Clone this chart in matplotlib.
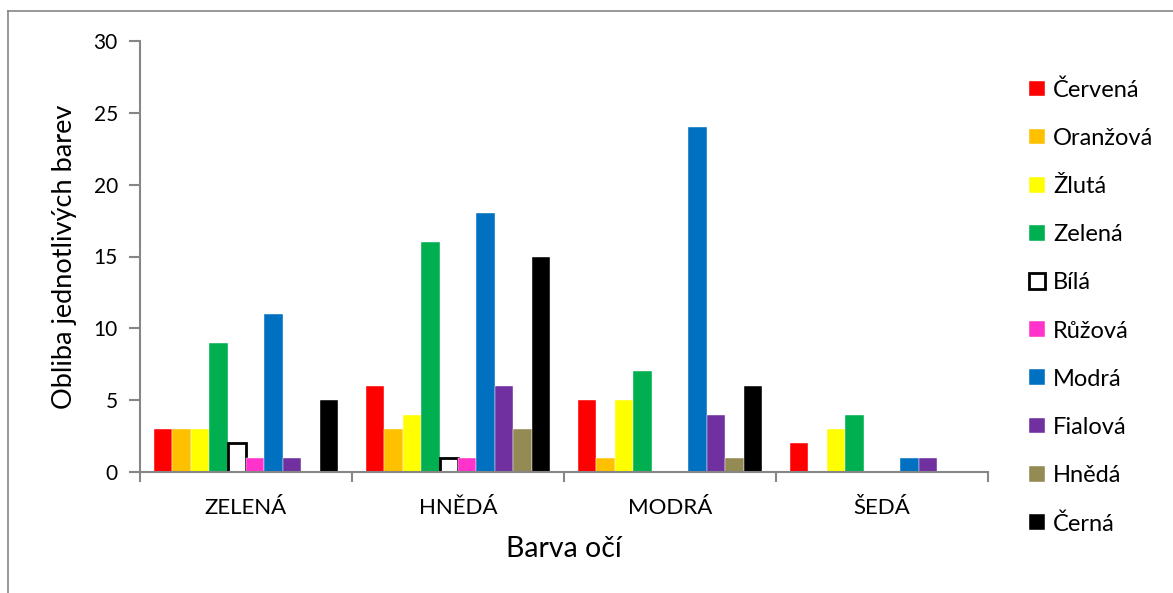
import numpy as np
import matplotlib
matplotlib.use('Agg')
import matplotlib.pyplot as plt
from matplotlib.lines import Line2D

plt.rcParams['font.family'] = ['Lato', 'DejaVu Sans']

groups = ['ZELENÁ', 'HNĚDÁ', 'MODRÁ', 'ŠEDÁ']
series = ['Červená', 'Oranžová', 'Žlutá', 'Zelená', 'Bílá',
          'Růžová', 'Modrá', 'Fialová', 'Hnědá', 'Černá']
cervena = [3, 6, 5, 2]
oranzova = [3, 3, 1, 0]
zluta = [3, 4, 5, 3]
zelena = [9, 16, 7, 4]
bila = [2, 1, 0, 0]
ruzova = [1, 1, 0, 0]
modra = [11, 18, 24, 1]
fialova = [1, 6, 4, 1]
hneda = [0, 3, 1, 0]
cerna = [5, 15, 6, 0]
values = [cervena, oranzova, zluta, zelena, bila, ruzova, modra, fialova, hneda, cerna]

colors = ['#FF0000', '#FFC000', '#FFFF00', '#00B050', '#FFFFFF',
          '#FF33CC', '#0070C0', '#7030A0', '#948A54', '#000000']

fig = plt.figure(figsize=(11.73, 5.93), dpi=100)
ax = fig.add_axes([140/1173, 1-472/593, 848/1173, 431/593])

x = np.arange(len(groups))
width = 1/11.5
for i, (name, vals, c) in enumerate(zip(series, values, colors)):
    vals = np.array(vals, dtype=float)
    pos = x + (i - 4.5) * width
    keep = vals > 0
    if name == 'Bílá':
        ax.bar(pos[keep], vals[keep], width, color=c, edgecolor='black',
               linewidth=2, label=name)
    else:
        ax.bar(pos[keep], vals[keep], width, color=c, edgecolor='white',
               linewidth=0.3, label=name)

ax.set_xlim(-0.5, len(groups) - 0.5)
ax.set_ylim(0, 30)
ax.set_yticks(np.arange(0, 31, 5))
ax.set_xticks(x)
ax.set_xticklabels(groups)
ax.set_xticks(np.arange(-0.5, len(groups), 1), minor=True)

gray = '#868686'
for s in ['top', 'right']:
    ax.spines[s].set_visible(False)
for s in ['left', 'bottom']:
    ax.spines[s].set_color(gray)
    ax.spines[s].set_linewidth(1.5)
ax.tick_params(axis='y', length=8, width=1.5, color=gray, labelsize=15, pad=8)
ax.tick_params(axis='x', which='major', length=0, labelsize=16, pad=19)
ax.tick_params(axis='x', which='minor', length=7, width=1.5, color=gray)

ax.set_ylabel('Obliba jednotlivých barev', fontsize=19.5, labelpad=12)
ax.set_xlabel('Barva očí', fontsize=20.5, labelpad=13)

fig.legend(loc='upper left', bbox_to_anchor=(1008/1173, 1-58/593),
           frameon=False, fontsize=17, labelspacing=1.15,
           handlelength=0.65, handleheight=0.65, handletextpad=0.35)

# outer chart frame (only left and top edges are visible)
fig.add_artist(Line2D([8/1173, 8/1173], [0, 1-11/593], color=gray, lw=1.2))
fig.add_artist(Line2D([8/1173, 1], [1-11/593, 1-11/593], color=gray, lw=1.2))

fig.savefig('out.png', dpi=100)
